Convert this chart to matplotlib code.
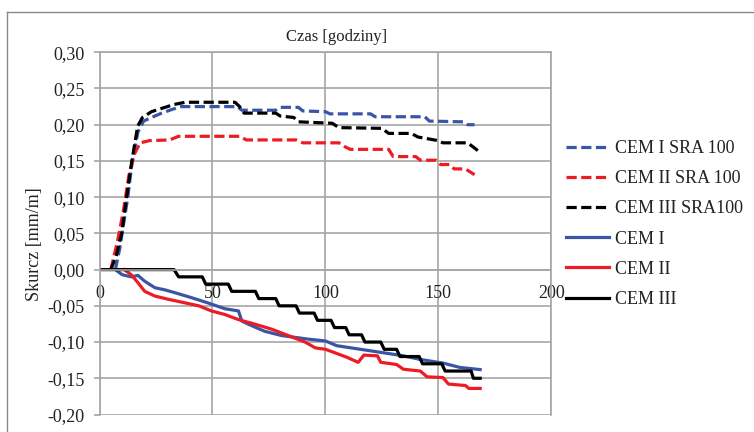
import matplotlib
matplotlib.use("Agg")
import matplotlib.pyplot as plt
from matplotlib.lines import Line2D

# Shrinkage readings (hours, mm/m)
sra1_x = [7, 9, 10.5, 12.5, 14.5, 17, 19.5, 23, 27.5, 32, 36, 61, 63, 78, 80, 88, 90, 100,
          102, 120, 122, 144, 146, 161, 163, 166]
sra1_y = [0.0, 0.03, 0.06, 0.10, 0.15, 0.19, 0.205, 0.21, 0.216, 0.221, 0.225, 0.225, 0.22,
          0.22, 0.224, 0.224, 0.219, 0.218, 0.215, 0.215, 0.211, 0.211, 0.205, 0.204, 0.20, 0.20]

sra2_x = [5, 8, 10.5, 13, 15.5, 18, 22, 31, 35, 62, 65, 87, 90, 106, 109, 111, 128, 130,
          140, 142, 149, 151, 155, 157, 162, 166]
sra2_y = [0.0, 0.04, 0.08, 0.13, 0.16, 0.175, 0.178, 0.179, 0.184, 0.184, 0.179, 0.179,
          0.175, 0.175, 0.169, 0.166, 0.166, 0.156, 0.156, 0.151, 0.151, 0.145, 0.145,
          0.139, 0.139, 0.131]

sra3_x = [5, 7.5, 9.8, 12, 14.3, 16.9, 19, 23, 28, 33, 38, 60, 62, 64, 78, 80, 86, 88, 103,
          106, 125, 128, 138, 141, 150, 152, 163, 168]
sra3_y = [0.0, 0.02, 0.05, 0.10, 0.15, 0.198, 0.21, 0.218, 0.223, 0.228, 0.231, 0.231,
          0.225, 0.216, 0.216, 0.212, 0.21, 0.204, 0.202, 0.196, 0.195, 0.188, 0.188, 0.183,
          0.178, 0.175, 0.175, 0.163]

cem1_x = [7, 10, 14, 17, 20, 24.5, 29, 33.5, 41, 48, 55.5, 61.5, 63, 66, 73, 80.5, 92.5,
          100, 105, 115.5, 124, 134.5, 142, 152, 159.5, 168.5]
cem1_y = [0.0, -0.007, -0.01, -0.008, -0.016, -0.025, -0.028, -0.032, -0.039, -0.046,
          -0.054, -0.057, -0.071, -0.0755, -0.085, -0.091, -0.096, -0.0985, -0.105, -0.11,
          -0.114, -0.119, -0.124, -0.129, -0.135, -0.138]

cem2_x = [11, 14, 17, 20, 24.5, 30.5, 38, 44, 49.5, 55.5, 61.5, 69, 76, 83.5, 91, 95.5,
          100, 103.5, 109.5, 114.5, 117, 123, 124.5, 131.5, 134.5, 142, 145, 152, 154.5,
          162, 163.5, 168.5]
cem2_y = [0.0, -0.007, -0.018, -0.03, -0.0365, -0.041, -0.046, -0.05, -0.057, -0.062,
          -0.069, -0.0755, -0.082, -0.091, -0.10, -0.108, -0.11, -0.114, -0.121, -0.128,
          -0.118, -0.119, -0.128, -0.131, -0.1375, -0.14, -0.148, -0.149, -0.158, -0.16,
          -0.164, -0.164]

cem3_x = [0, 33, 35, 45.5, 47, 57, 58.5, 69, 70.5, 78, 79.5, 87, 88.5, 95, 96.5, 102.5,
          104, 109, 110.5, 116, 117.5, 124.5, 126, 131.5, 133, 141.5, 143, 151.5, 153,
          164.5, 165.5, 168.5]
cem3_y = [0.0, 0.0, -0.01, -0.01, -0.02, -0.02, -0.03, -0.03, -0.04, -0.04, -0.05, -0.05,
          -0.06, -0.06, -0.07, -0.07, -0.08, -0.08, -0.09, -0.09, -0.10, -0.10, -0.11,
          -0.11, -0.12, -0.12, -0.13, -0.13, -0.14, -0.14, -0.15, -0.15]

x_ticks = [0, 50, 100, 150, 200]
y_ticks = [-0.20, -0.15, -0.10, -0.05, 0.00, 0.05, 0.10, 0.15, 0.20, 0.25, 0.30]
y_tick_labels = ["-0,20", "-0,15", "-0,10", "-0,05", "0,00", "0,05", "0,10", "0,15",
                 "0,20", "0,25", "0,30"]

BLUE = "#3b55a6"
RED = "#ec1c24"
BLACK = "#000000"
GRID = "#a6a6a6"
TEXT = "#222222"

plt.rcParams['font.family'] = ['Liberation Serif', 'DejaVu Serif']

fig = plt.figure(figsize=(7.54, 4.32), dpi=100)
ax = fig.add_axes([0.132, 0.0405, 0.5992, 0.8385])

dash = (3.2, 1.4)
lw = 2.3
ax.plot(sra1_x, sra1_y, color=BLUE, lw=lw, dashes=dash, label="CEM I SRA 100")
ax.plot(sra2_x, sra2_y, color=RED, lw=lw, dashes=dash, label="CEM II SRA 100")
ax.plot(sra3_x, sra3_y, color=BLACK, lw=lw, dashes=dash, label="CEM III SRA100")
ax.plot(cem1_x, cem1_y, color=BLUE, lw=lw, label="CEM I")
ax.plot(cem2_x, cem2_y, color=RED, lw=lw, label="CEM II")
ax.plot(cem3_x, cem3_y, color=BLACK, lw=lw, label="CEM III")

ax.set_xlim(0, 200)
ax.set_ylim(-0.20, 0.30)
ax.set_xticks(x_ticks)
ax.set_yticks(y_ticks)
ax.set_yticklabels(y_tick_labels)

ax.grid(True, color=GRID, lw=1.2)
ax.set_axisbelow(True)
for side in ['left', 'right', 'top', 'bottom']:
    ax.spines[side].set_color(GRID)
    ax.spines[side].set_linewidth(1.2)
# x axis crosses at zero, like the spreadsheet default
ax.spines['bottom'].set_position(('data', 0))

ax.tick_params(axis='y', length=4, width=1.2, color=GRID, pad=6.5, labelsize=13,
               labelcolor=TEXT)
ax.tick_params(axis='x', length=0, pad=11, labelsize=13, labelcolor=TEXT)

ax.set_ylabel("Skurcz [mm/m]", fontsize=13, color=TEXT, labelpad=3, y=0.47)
fig.text(337 / 754, 1 - 37 / 432, "Czas [godziny]", ha='center', va='center',
         fontsize=12, color=TEXT)

ax.legend(loc='center left', bbox_to_anchor=(566 / 754, 1 - 224 / 432),
          bbox_transform=fig.transFigure, frameon=False, fontsize=13,
          handlelength=2.4, handletextpad=0.3, labelspacing=0.73,
          borderpad=0, borderaxespad=0, labelcolor=TEXT)

# outer chart border
fig.add_artist(Line2D([6.5 / 754, 6.5 / 754], [0, 1 - 12.3 / 432],
                      transform=fig.transFigure, color='#8a8a8a', lw=1))
fig.add_artist(Line2D([6.5 / 754, 1], [1 - 12.3 / 432, 1 - 12.3 / 432],
                      transform=fig.transFigure, color='#8a8a8a', lw=1))

fig.savefig("out.png", dpi=100)
